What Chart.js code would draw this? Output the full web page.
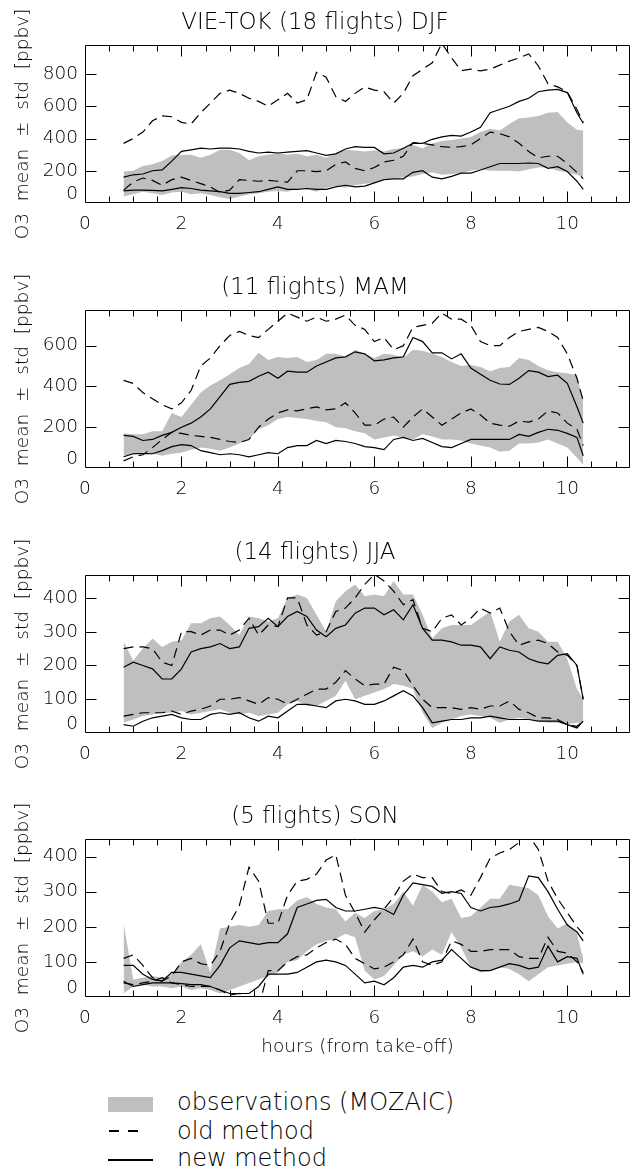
<!DOCTYPE html>
<html>
<head>
<meta charset="utf-8">
<script src="https://cdn.jsdelivr.net/npm/chart.js@4.4.1/dist/chart.umd.min.js"></script>
<style>
  html, body { margin: 0; padding: 0; background: #fff; }
  body { width: 630px; height: 1172px; position: relative; overflow: hidden; font-family: "DejaVu Sans", sans-serif; }
  .panel { position: absolute; left: 0; width: 630px; }
  .leg-text { position: absolute; left: 177px; font-size: 24px; line-height: 24px; font-weight: 200; color: #000; white-space: pre; }
  .sw { position: absolute; background: #000; }
</style>
</head>
<body>
<div class="panel" style="top:0px"><canvas id="c1" width="630" height="243"></canvas></div>
<div class="panel" style="top:265px"><canvas id="c2" width="630" height="243"></canvas></div>
<div class="panel" style="top:530px"><canvas id="c3" width="630" height="243"></canvas></div>
<div class="panel" style="top:794px"><canvas id="c4" width="630" height="267"></canvas></div>

<div class="sw" style="left:108px;top:1097px;width:45px;height:15px;background:#bfbfbf"></div>
<div class="leg-text" style="top:1090px">observations (MOZAIC)</div>
<div class="sw" style="left:109px;top:1130px;width:10px;height:1.5px"></div>
<div class="sw" style="left:128px;top:1130px;width:10px;height:1.5px"></div>
<div class="leg-text" style="top:1119px">old method</div>
<div class="sw" style="left:108px;top:1159px;width:45px;height:1.5px"></div>
<div class="leg-text" style="top:1146px">new method</div>

<script>
// ---------- data ----------
const hours = [0.8,1.0,1.2,1.4,1.6,1.8,2.0,2.2,2.4,2.6,2.8,3.0,3.2,3.4,3.6,3.8,4.0,4.2,4.4,4.6,4.8,5.0,5.2,5.4,5.6,5.8,6.0,6.2,6.4,6.6,6.8,7.0,7.2,7.4,7.6,7.8,8.0,8.2,8.4,8.6,8.8,9.0,9.2,9.4,9.6,9.8,10.0,10.2,10.33];

const xTickLabels = [0,2,4,6,8,10];
const xMinorTicks = [0.5,1,1.5,2,2.5,3,3.5,4,4.5,5,5.5,6,6.5,7,7.5,8,8.5,9,9.5,10,10.5,11];

const panelTitles = ["VIE-TOK (18 flights) DJF", "(11 flights) MAM", "(14 flights) JJA", "(5 flights) SON"];
const yAxisTitle = "O3  mean  \u00b1  std  [ppbv]";
const xAxisTitle = "hours (from take-off)";

// DJF
const djfYTicks = [0,200,400,600,800];
const djfObsHi = [195,200,230,240,260,295,300,300,280,300, 330,330,310,265,290,300,310,300,305,290, 300,280,310,330,325,320,325,320,335,340, 360,340,370,385,390,400,410,440,460,450, 490,525,530,540,560,565,500,455,450];
const djfObsLo = [40,55,70,60,50,65,70,55,60,50, 35,25,40,55,60,70,75,70,90,85, 70,95,105,95,110,120,125,150,150,160, 165,180,190,175,180,185,200,210,200,200, 200,195,210,220,220,200,190,175,160];
const djfOldHi = [370,400,440,510,540,535,500,490,560,620, 680,700,680,650,630,600,640,680,620,640, 810,780,660,630,680,720,700,690,620,680, 790,830,870,990,900,820,830,820,830,855, 880,900,925,850,740,720,690,580,500];
const djfOldLo = [80,130,155,140,110,145,160,140,120,100, 65,80,145,140,135,140,135,130,200,200, 195,200,240,255,215,200,220,255,265,290, 375,370,360,350,345,350,360,400,440,430, 410,370,320,280,290,290,245,190,150];
const djfNewHi = [160,175,180,200,205,260,320,330,340,335, 340,340,335,320,310,315,310,315,320,325, 310,295,305,335,350,345,345,305,310,340, 370,370,395,410,420,415,440,470,560,580, 600,630,650,690,700,705,685,560,495];
const djfNewLo = [75,80,80,78,75,85,95,90,80,75, 70,60,60,65,70,85,100,85,85,90, 85,85,100,110,100,105,125,145,150,150, 190,200,160,150,165,185,185,205,225,245, 245,245,248,245,215,225,195,135,85];

// MAM
const mamYTicks = [0,200,400,600];
const mamObsHi = [170,165,165,180,180,270,250,310,370,405, 430,460,490,510,565,530,545,540,545,520, 530,560,560,545,580,560,540,560,555,540, 580,575,560,545,520,500,505,495,475,490, 495,540,530,500,480,470,465,455,330];
const mamObsLo = [60,65,80,70,60,70,75,90,100,95, 85,100,120,140,190,210,240,250,245,240, 230,225,200,195,180,170,140,150,160,150, 140,165,155,140,140,135,120,110,100,80, 85,120,120,125,140,120,100,50,15];
const mamOldHi = [430,415,370,340,310,290,320,380,500,540, 600,650,670,650,640,680,720,760,740,720, 740,720,730,750,700,680,620,640,580,600, 690,700,710,760,730,730,700,620,600,600, 640,670,680,690,670,640,560,440,330];
const mamOldLo = [35,55,65,100,140,175,170,160,155,150, 140,130,125,140,200,240,270,285,280,290, 300,285,290,320,270,210,210,240,250,200, 250,290,250,210,240,270,290,260,220,210, 205,230,225,240,280,270,220,190,110];
const mamNewHi = [160,155,135,140,160,175,200,220,250,290, 350,410,420,425,450,470,440,475,470,470, 500,520,540,545,570,560,525,530,540,545, 640,620,565,565,535,560,490,460,430,412, 410,440,478,470,448,455,415,300,220];
const mamNewLo = [55,70,72,70,85,105,115,110,85,75, 65,70,65,55,65,75,70,100,110,110, 135,120,135,130,120,105,100,90,140,150, 135,145,125,105,100,120,140,140,140,140, 140,165,155,175,190,185,170,150,60];

// JJA
const jjaYTicks = [0,100,200,300,400];
const jjaObsHi = [270,215,250,280,255,270,275,325,325,340, 345,320,290,345,340,330,340,400,410,400, 350,300,390,420,440,405,410,405,450,410, 410,350,280,310,320,320,320,340,360,270, 330,350,310,300,270,270,220,130,100];
const jjaObsLo = [30,40,50,55,60,60,65,55,60,65, 70,60,55,60,50,55,60,85,95,80, 80,95,110,155,100,110,120,130,145,140, 130,60,15,30,40,50,55,50,45,30, 40,45,40,35,30,30,25,30,30];
const jjaOldHi = [250,255,255,250,210,200,300,300,290,305, 305,290,305,340,290,320,315,400,400,320, 290,300,360,370,400,440,470,450,420,380, 395,310,300,340,350,320,340,370,355,370, 300,260,270,275,265,240,230,200,100];
const jjaOldLo = [50,55,60,60,60,65,55,65,70,80, 100,100,105,95,85,105,100,85,100,115, 130,130,150,185,160,140,145,145,195,185, 140,100,75,75,75,70,75,70,80,80, 95,70,60,45,45,40,25,20,35];
const jjaNewHi = [195,210,200,190,160,160,190,240,250,255, 265,250,255,310,315,340,315,345,360,345, 305,285,310,320,355,370,370,350,365,335, 380,310,275,275,270,260,260,255,220,255, 245,240,220,210,205,230,235,200,100];
const jjaNewLo = [25,20,35,45,50,55,45,40,40,55, 60,55,60,45,35,50,45,65,85,85, 80,75,95,100,95,85,85,95,110,125, 110,75,30,35,40,40,45,45,50,45, 40,40,40,35,35,35,25,15,35];

// SON
const sonYTicks = [0,100,200,300,400];
const sonObsHi = [210,50,55,60,55,65,100,120,150,70, 195,200,205,200,205,245,250,250,275,285, 265,255,250,215,240,225,245,250,265,300, 260,320,300,270,280,225,230,255,280,280, 320,315,310,290,230,195,210,180,110];
const sonObsLo = [10,30,35,30,30,25,30,20,25,20, 10,20,30,40,50,60,70,100,105,130, 150,160,165,180,170,75,50,60,90,120, 130,115,135,120,185,140,85,70,75,85, 80,65,45,65,85,90,95,100,95];
const sonOldHi = [110,120,90,55,45,60,100,110,95,90, 130,210,260,370,330,210,210,290,330,335, 350,390,405,290,240,185,220,250,285,330, 350,340,340,300,295,305,290,340,395,410, 420,440,460,420,330,280,240,200,180];
const sonOldLo = [40,35,40,45,55,40,35,30,30,30, 20,5,10,-5,-30,75,75,100,115,120, 140,155,165,150,110,95,80,85,100,120, 165,100,90,100,160,150,130,130,135,135, 135,115,110,110,170,130,125,100,70];
const sonNewHi = [90,90,65,50,45,70,70,65,60,55, 90,140,160,155,150,155,155,180,255,265, 275,278,255,245,245,250,255,250,235,290, 325,320,315,295,300,295,255,245,255,258, 265,275,345,340,300,250,205,185,160];
const sonNewLo = [45,30,35,40,40,40,38,35,35,30, 20,10,10,10,30,65,65,65,70,85, 100,105,100,90,65,40,45,35,55,85, 90,85,100,105,135,110,85,75,75,85, 95,90,80,85,145,100,115,110,65];

const yMaxes = [980, 775, 468, 450];

// ---------- styling ----------
const FONT = '"DejaVu Sans", sans-serif';
const BAND = '#bfbfbf';

const pts = arr => hours.map((h, i) => ({x: h, y: arr[i]}));

const frameTicks = {
  id: 'frameTicks',
  afterDatasetsDraw(chart) {
    const {ctx, chartArea: a, scales: {x: xs, y: ys}} = chart;
    const L = Math.round(a.left) + 0.5, R = Math.round(a.right) - 0.5;
    const T = Math.round(a.top) + 0.5, B = Math.round(a.bottom) - 0.5;
    ctx.save();
    ctx.strokeStyle = '#000';
    ctx.lineWidth = 1;
    ctx.beginPath();
    ctx.rect(L, T, R - L, B - T);
    xMinorTicks.forEach(v => {
      const px = Math.round(xs.getPixelForValue(v)) + 0.5;
      const len = xTickLabels.includes(v) ? 11 : 6;
      ctx.moveTo(px, B); ctx.lineTo(px, B - len);
      ctx.moveTo(px, T); ctx.lineTo(px, T + len);
    });
    ys.ticks.forEach(t => {
      if (t.value === 0) return;
      const py = Math.round(ys.getPixelForValue(t.value)) + 0.5;
      ctx.moveTo(L, py); ctx.lineTo(L + 11, py);
      ctx.moveTo(R, py); ctx.lineTo(R - 11, py);
    });
    ctx.stroke();
    ctx.restore();
  }
};

function makePanel(id, title, yTicks, yMax, obsHi, obsLo, oldHi, oldLo, newHi, newLo, withXTitle) {
  const lineBase = {pointRadius: 0, borderColor: '#000', borderWidth: 1.2, fill: false, tension: 0, clip: 0};
  new Chart(document.getElementById(id), {
    type: 'line',
    data: {
      datasets: [
        Object.assign({}, lineBase, {label: 'new hi', data: pts(newHi)}),
        Object.assign({}, lineBase, {label: 'new lo', data: pts(newLo)}),
        Object.assign({}, lineBase, {label: 'old hi', data: pts(oldHi), borderDash: [10, 6]}),
        Object.assign({}, lineBase, {label: 'old lo', data: pts(oldLo), borderDash: [10, 6]}),
        {label: 'obs lo', data: pts(obsLo), pointRadius: 0, borderWidth: 0, borderColor: 'rgba(0,0,0,0)', fill: false, clip: 0},
        {label: 'obs hi', data: pts(obsHi), pointRadius: 0, borderWidth: 0, borderColor: 'rgba(0,0,0,0)', backgroundColor: BAND, fill: '-1', clip: 0}
      ]
    },
    options: {
      responsive: false,
      animation: false,
      devicePixelRatio: 1,
      layout: {padding: {top: 0, left: 0, right: 0, bottom: 0}},
      plugins: {
        legend: {display: false},
        tooltip: {enabled: false},
        filler: {drawTime: 'beforeDatasetsDraw'},
        title: {
          display: true, text: title, color: '#000',
          font: {family: FONT, size: 23, weight: 200, lineHeight: 1.2},
          padding: {top: 9.5, bottom: 7.9}
        }
      },
      scales: {
        x: {
          type: 'linear', min: 0, max: 11.3,
          afterBuildTicks: s => { s.ticks = xTickLabels.map(v => ({value: v})); },
          afterFit: s => { s.height = withXTitle ? 64 : 40; },
          grid: {display: false, drawTicks: false},
          border: {display: false},
          ticks: {color: '#000', font: {family: FONT, size: 18.5, weight: 200}, padding: 10, maxRotation: 0, autoSkip: false},
          title: {display: withXTitle, text: xAxisTitle, color: '#000', font: {family: FONT, size: 18.5, weight: 200, lineHeight: 1.2}, padding: {top: 0, bottom: 3}}
        },
        y: {
          type: 'linear', min: 0, max: yMax,
          afterBuildTicks: s => { s.ticks = yTicks.map(v => ({value: v})); },
          afterFit: s => { s.width = 85; },
          grid: {display: false, drawTicks: false},
          border: {display: false},
          ticks: {
            color: '#000', font: {family: FONT, size: 18.5, weight: 200, lineHeight: 0.9}, padding: 7,
            callback: v => (v === 0 ? ['0', ''] : String(v))
          },
          title: {display: true, text: yAxisTitle, color: '#000', font: {family: FONT, size: 18.5, weight: 200, lineHeight: 1.2}, padding: {top: 12, bottom: 0}}
        }
      }
    },
    plugins: [frameTicks]
  });
}

makePanel('c1', panelTitles[0], djfYTicks, yMaxes[0], djfObsHi, djfObsLo, djfOldHi, djfOldLo, djfNewHi, djfNewLo, false);
makePanel('c2', panelTitles[1], mamYTicks, yMaxes[1], mamObsHi, mamObsLo, mamOldHi, mamOldLo, mamNewHi, mamNewLo, false);
makePanel('c3', panelTitles[2], jjaYTicks, yMaxes[2], jjaObsHi, jjaObsLo, jjaOldHi, jjaOldLo, jjaNewHi, jjaNewLo, false);
makePanel('c4', panelTitles[3], sonYTicks, yMaxes[3], sonObsHi, sonObsLo, sonOldHi, sonOldLo, sonNewHi, sonNewLo, true);
</script>
</body>
</html>
